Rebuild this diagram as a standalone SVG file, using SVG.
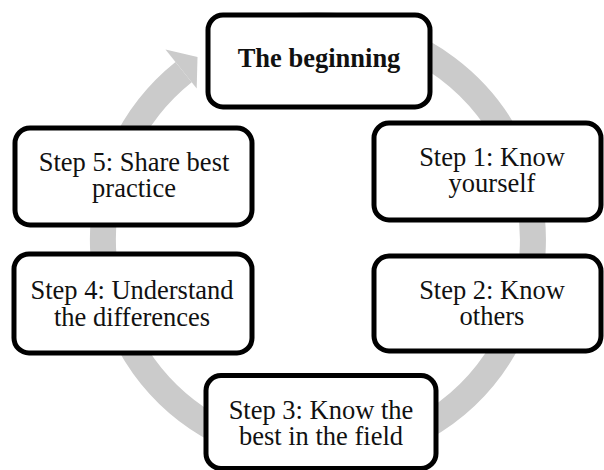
<svg xmlns="http://www.w3.org/2000/svg" width="604" height="470" viewBox="0 0 604 470">
  <style>
    .node rect { fill: #ffffff; stroke: #000000; stroke-width: 5; }
    .node text { font-family: "Liberation Serif", "Times New Roman", serif; font-size: 26.5px; fill: #111111; text-anchor: middle; }
    .node text.bold { font-weight: bold; }
    .cycle { fill: none; stroke: #cbcbcb; stroke-width: 26; }
    .head { fill: #cbcbcb; }
  </style>

  <!-- circular flow arrow behind the steps -->
  <g id="connectors">
    <path class="cycle" d="M 244.5 38 A 215 215 0 1 1 183.6 72.2"/>
    <polygon class="head" points="165.5,49.6 197.5,57 196.7,88.6"/>
  </g>

  <g id="node-beginning" class="node">
    <rect x="208" y="15" width="222" height="92" rx="15" ry="15"/>
    <text class="bold" x="319" y="67">The beginning</text>
  </g>

  <g id="node-step1" class="node">
    <rect x="374" y="123" width="227" height="97" rx="15" ry="15"/>
    <text x="492" y="166">Step 1: Know</text>
    <text x="492" y="192">yourself</text>
  </g>

  <g id="node-step2" class="node">
    <rect x="374" y="256" width="227" height="95" rx="15" ry="15"/>
    <text x="492" y="299">Step 2: Know</text>
    <text x="492" y="325">others</text>
  </g>

  <g id="node-step3" class="node">
    <rect x="206" y="375.5" width="230" height="93" rx="15" ry="15"/>
    <text x="321" y="419">Step 3: Know the</text>
    <text x="321" y="445">best in the field</text>
  </g>

  <g id="node-step4" class="node">
    <rect x="14" y="254" width="238" height="99" rx="15" ry="15"/>
    <text x="132" y="299">Step 4: Understand</text>
    <text x="132" y="326">the differences</text>
  </g>

  <g id="node-step5" class="node">
    <rect x="15" y="128" width="237" height="97" rx="15" ry="15"/>
    <text x="134" y="171">Step 5: Share best</text>
    <text x="134" y="197">practice</text>
  </g>
</svg>
